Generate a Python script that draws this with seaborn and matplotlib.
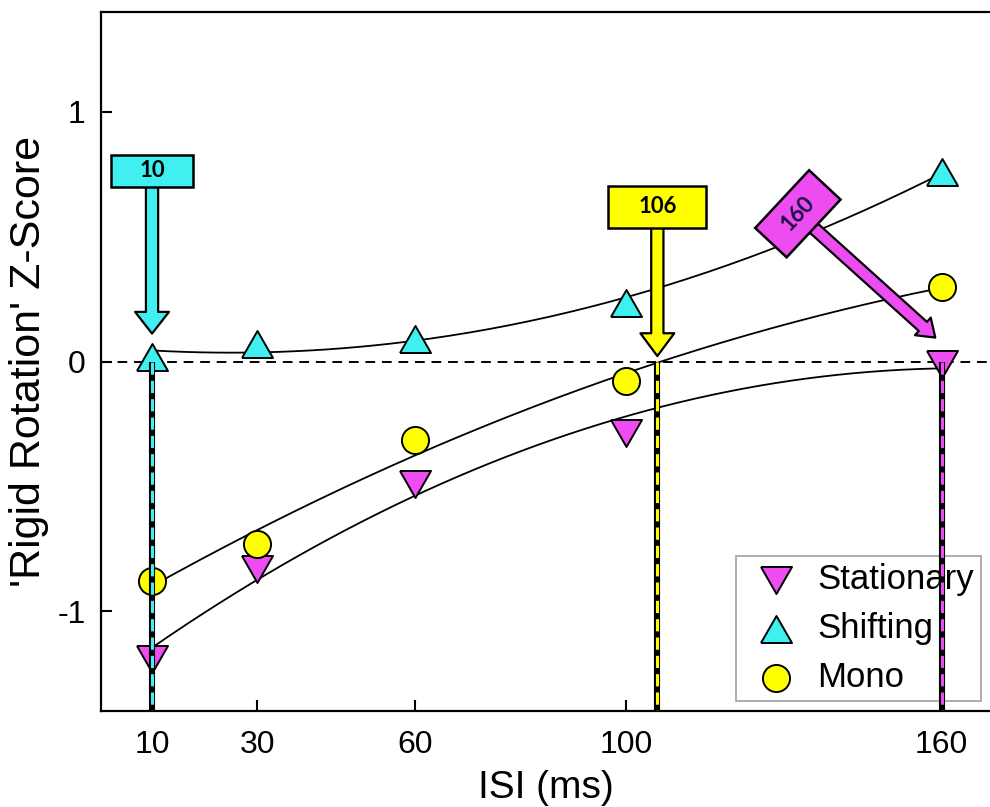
import numpy as np
import matplotlib
matplotlib.use("Agg")
import matplotlib.pyplot as plt
import seaborn as sns
from matplotlib.patches import Rectangle
from matplotlib.transforms import Affine2D, ScaledTranslation

# Mean 'rigid rotation' z-scores per inter-stimulus interval
isi = [10, 30, 60, 100, 160]
stationary = [-1.19, -0.83, -0.49, -0.285, -0.01]
shifting = [0.02, 0.07, 0.09, 0.235, 0.76]
mono = [-0.88, -0.73, -0.316, -0.076, 0.30]

x_ticks = [10, 30, 60, 100, 160]
y_ticks = [-1, 0, 1]

# ISI at which each condition crosses z = 0
crossings = [10, 106, 160]
crossing_labels = ["10", "106", "160"]

CYAN = "#40f0f0"
YELLOW = "#ffff00"
MAGENTA = "#ec4cf0"

sns.set_theme(style="white")
plt.rcParams["font.family"] = ["Liberation Sans", "DejaVu Sans"]
plt.rcParams.update({"text.color": "black", "axes.labelcolor": "black",
                     "xtick.color": "black", "ytick.color": "black"})

fig = plt.figure(figsize=(9.9, 8.07), dpi=100)
ax = fig.add_axes([0.102, 0.119, 0.898, 0.866])
ax.set_xlim(0.3, 169.2)
ax.set_ylim(-1.4, 1.4)

# quadratic trend through each condition
xs = np.linspace(min(isi), max(isi), 200)
for ys in (stationary, shifting, mono):
    coef = np.polyfit(isi, ys, 2)
    sns.lineplot(x=xs, y=np.polyval(coef, xs), color="black", lw=1.3,
                 ax=ax, zorder=2, legend=False)

# zero reference
ax.axhline(0, color="black", lw=1.4, ls=(0, (5, 3.5)), zorder=1.5)

tri_up = [(-1, -0.87), (1, -0.87), (0, 0.87), (-1, -0.87)]
tri_down = [(-1, 0.87), (1, 0.87), (0, -0.87), (-1, 0.87)]

sns.scatterplot(x=isi, y=stationary, marker=tri_down, s=500, color=MAGENTA,
                edgecolor="black", linewidth=1.4, ax=ax, zorder=3, label="Stationary")
sns.scatterplot(x=isi, y=shifting, marker=tri_up, s=500, color=CYAN,
                edgecolor="black", linewidth=1.4, ax=ax, zorder=3, label="Shifting")
sns.scatterplot(x=isi, y=mono, marker="o", s=380, color=YELLOW,
                edgecolor="black", linewidth=1.4, ax=ax, zorder=3, label="Mono")

# vertical markers at each zero crossing
for xc, col in zip(crossings, (CYAN, YELLOW, MAGENTA)):
    ax.plot([xc, xc], [0, -1.4], color="black", lw=4.4, zorder=4,
            solid_capstyle="butt")
    ax.plot([xc, xc], [0, -1.4], color=col, lw=2.2, ls=(0, (4, 2)), zorder=4.1,
            dash_capstyle="butt")


def callout(label, color, box_xy, box_wh, angle, tip_xy, head_w, head_l):
    """Labelled box with an arrow pointing at the crossing."""
    bx, by = box_xy
    w, h = box_wh
    tr = Affine2D().rotate_deg(angle) + ScaledTranslation(bx, by, ax.transData)
    ax.add_patch(Rectangle((-w / 2, -h / 2), w, h, transform=tr, facecolor=color,
                           edgecolor="black", lw=1.8, zorder=6, clip_on=False))
    txt_color = "#1e1040" if color == MAGENTA else "black"
    ax.text(bx, by, label, rotation=angle, ha="center", va="center",
            rotation_mode="anchor", fontsize=16, fontweight="bold",
            family=["Lato", "DejaVu Sans"], color=txt_color, zorder=7)
    ax.annotate("", xy=tip_xy, xytext=(bx, by),
                arrowprops=dict(arrowstyle=f"simple,head_length={head_l},head_width={head_w},tail_width=0.44",
                                mutation_scale=20, fc=color, ec="black", lw=1.6,
                                shrinkA=0, shrinkB=0),
                zorder=5)


callout(crossing_labels[0], CYAN, (crossings[0], 0.764), (82, 32), 0,
        (crossings[0], 0.112), 1.22, 0.78)
callout(crossing_labels[1], YELLOW, (crossings[1], 0.62), (98, 42), 0,
        (crossings[1], 0.022), 1.22, 0.82)
callout(crossing_labels[2], MAGENTA, (132.7, 0.592), (79, 43), 47,
        (158.8, 0.096), 0.85, 0.6)

ax.set_xticks(x_ticks)
ax.set_yticks(y_ticks)
ax.set_xticklabels([str(v) for v in x_ticks])
ax.set_yticklabels([str(v) for v in y_ticks])
ax.tick_params(direction="in", length=8, width=1.5, labelsize=23, colors="black",
               pad=14, left=True, bottom=True)
ax.tick_params(axis="y", pad=11)
ax.set_xlabel("ISI (ms)", fontsize=28, labelpad=7)
ax.set_ylabel("'Rigid Rotation' Z-Score", fontsize=31, labelpad=6)

for side in ("left", "bottom", "top"):
    ax.spines[side].set_color("black")
    ax.spines[side].set_linewidth(1.6)
ax.spines["right"].set_visible(False)

leg = ax.legend(loc="upper left", bbox_to_anchor=(0.714, 0.222), fontsize=25,
                frameon=True, fancybox=False, edgecolor="#888888",
                handletextpad=0.25, borderpad=0.2, labelspacing=0.46,
                handlelength=1.9, markerscale=1.0, borderaxespad=0)
leg.get_frame().set_linewidth(1.2)
leg.set_zorder(3.5)

fig.savefig("out.png", dpi=100, facecolor="white")
